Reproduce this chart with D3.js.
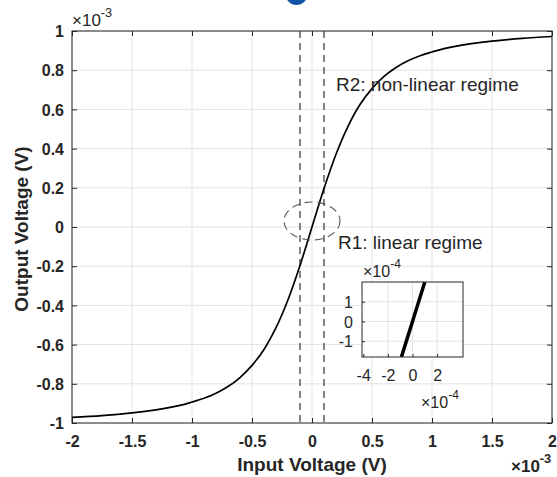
<!DOCTYPE html>
<html><head><meta charset="utf-8">
<script src="https://cdn.jsdelivr.net/npm/d3@7"></script>
<style>body{margin:0;background:#fff}svg text{font-family:Arial,"Liberation Sans",Helvetica,sans-serif}</style>
</head><body>
<svg id="c" width="557" height="477"></svg>
<script>
// main curve (x in 1e-3 V, y in 1e-3 V)
const inputV  = [-2, -1.75, -1.5, -1.25, -1.1, -1, -0.9, -0.8, -0.7, -0.6, -0.5, -0.4, -0.3, -0.2, -0.1, 0, 0.1, 0.2, 0.3, 0.4, 0.5, 0.6, 0.7, 0.8, 0.9, 1, 1.1, 1.25, 1.5, 1.75, 2];
const outputV = [-0.971, -0.962, -0.948, -0.928, -0.910, -0.893, -0.874, -0.848, -0.814, -0.768, -0.706, -0.625, -0.514, -0.371, -0.196, 0, 0.196, 0.371, 0.514, 0.625, 0.706, 0.768, 0.814, 0.848, 0.874, 0.893, 0.910, 0.928, 0.948, 0.962, 0.972];
const xTicks = [-2, -1.5, -1, -0.5, 0, 0.5, 1, 1.5, 2];
const yTicks = [-1, -0.8, -0.6, -0.4, -0.2, 0, 0.2, 0.4, 0.6, 0.8, 1];
const boundaryX = [-0.1, 0.1];
// inset (units 1e-4)
const insetX = [-0.9, 1.0];
const insetY = [-1.8, 2.0];
const insetXTicks = [-4, -2, 0, 2];
const insetYTicks = [-1, 0, 1];
const insetGridX = [-2, 0, 2];
const insetGridY = [-1, 0, 1];

const svg = d3.select("#c");
const L = 72, R = 552, T = 31, B = 423;
const x = d3.scaleLinear().domain([-2, 2]).range([L, R]);
const y = d3.scaleLinear().domain([-1, 1]).range([B, T]);
const axisCol = "#262626", gridCol = "#e3e3e3";
const FF = "Arial, 'Liberation Sans', sans-serif";

// logo blob at top
svg.append("circle").attr("cx", 296.5).attr("cy", -6).attr("r", 11).attr("fill", "#0f56a8");

svg.append("rect").attr("x", L).attr("y", T).attr("width", R - L).attr("height", B - T).attr("fill", "#fff");

// grid
const g = svg.append("g");
g.selectAll(".gx").data(xTicks).join("line")
  .attr("x1", d => x(d)).attr("x2", d => x(d)).attr("y1", T).attr("y2", B)
  .attr("stroke", gridCol).attr("stroke-width", 1);
g.selectAll(".gy").data(yTicks).join("line")
  .attr("y1", d => y(d)).attr("y2", d => y(d)).attr("x1", L).attr("x2", R)
  .attr("stroke", gridCol).attr("stroke-width", 1);

// axes with inward ticks
function styleAxis(sel) {
  sel.select(".domain").remove();
  sel.selectAll(".tick line").attr("stroke", axisCol);
}
const fmt = d => String(d);
const xb = svg.append("g").attr("transform", `translate(0,${B})`)
  .call(d3.axisBottom(x).tickValues(xTicks).tickFormat(fmt).tickSizeInner(-5).tickSizeOuter(0));
styleAxis(xb);
xb.selectAll("text").attr("y", 24).attr("dy", null)
  .attr("font-size", 16).attr("font-weight", "bold").attr("fill", axisCol).attr("font-family", FF);
const xt = svg.append("g").attr("transform", `translate(0,${T})`)
  .call(d3.axisTop(x).tickValues(xTicks).tickFormat("").tickSizeInner(-5).tickSizeOuter(0));
styleAxis(xt);
const yl = svg.append("g").attr("transform", `translate(${L},0)`)
  .call(d3.axisLeft(y).tickValues(yTicks).tickFormat(fmt).tickSizeInner(-5).tickSizeOuter(0));
styleAxis(yl);
yl.selectAll("text").attr("x", -8).attr("dy", "0.36em")
  .attr("font-size", 16).attr("font-weight", "bold").attr("fill", axisCol).attr("font-family", FF);
const yr = svg.append("g").attr("transform", `translate(${R},0)`)
  .call(d3.axisRight(y).tickValues(yTicks).tickFormat("").tickSizeInner(-5).tickSizeOuter(0));
styleAxis(yr);

svg.append("rect").attr("x", L).attr("y", T).attr("width", R - L).attr("height", B - T)
  .attr("fill", "none").attr("stroke", axisCol).attr("stroke-width", 1);

// boundary dashed lines
svg.selectAll(".bd").data(boundaryX).join("line")
  .attr("x1", d => x(d)).attr("x2", d => x(d)).attr("y1", T).attr("y2", B)
  .attr("stroke", "#333").attr("stroke-width", 1.2).attr("stroke-dasharray", "7,5");

// curve
const pts = inputV.map((v, i) => [v, outputV[i]]);
svg.append("path").datum(pts)
  .attr("d", d3.line().x(d => x(d[0])).y(d => y(d[1])).curve(d3.curveCatmullRom.alpha(0.5)))
  .attr("fill", "none").attr("stroke", "#000").attr("stroke-width", 1.7);

// dashed ellipse
svg.append("ellipse").attr("cx", x(0)).attr("cy", 221).attr("rx", 28).attr("ry", 19)
  .attr("fill", "none").attr("stroke", "#555").attr("stroke-width", 1.1).attr("stroke-dasharray", "8,5");

// annotations
svg.append("text").attr("x", 336).attr("y", 91).attr("font-size", 19).attr("fill", axisCol).text("R2: non-linear regime");
svg.append("text").attr("x", 338).attr("y", 249).attr("font-size", 19).attr("fill", axisCol).text("R1: linear regime");

// axis titles
svg.append("text").attr("x", x(0)).attr("y", 471).attr("text-anchor", "middle")
  .attr("font-size", 19).attr("font-weight", "bold").attr("fill", axisCol).text("Input Voltage (V)");
svg.append("text").attr("transform", "translate(28,229) rotate(-90)").attr("text-anchor", "middle")
  .attr("font-size", 19).attr("font-weight", "bold").attr("fill", axisCol).text("Output Voltage (V)");

// exponent labels
function expLabel(px, py, exp, size, weight) {
  const t = svg.append("text").attr("x", px).attr("y", py).attr("font-size", size)
    .attr("font-weight", weight).attr("fill", axisCol);
  t.append("tspan").text("\u00d710");
  t.append("tspan").attr("dy", -9).attr("font-size", size * 0.75).text(exp);
}
expLabel(72, 26, "-3", 17, "normal");
expLabel(511, 472, "-3", 17, "bold");

// inset
const iL = 362, iR = 463, iT = 282, iB = 357;
const ix = d3.scaleLinear().domain([-4.1, 4.1]).range([iL, iR]);
const iy = d3.scaleLinear().domain([-1.8, 2.0]).range([iB, iT]);
svg.append("rect").attr("x", iL).attr("y", iT).attr("width", iR - iL).attr("height", iB - iT).attr("fill", "#fff");
svg.selectAll(".igx").data(insetGridX).join("line")
  .attr("x1", d => ix(d)).attr("x2", d => ix(d)).attr("y1", iT).attr("y2", iB)
  .attr("stroke", gridCol);
svg.selectAll(".igy").data(insetGridY).join("line")
  .attr("y1", d => iy(d)).attr("y2", d => iy(d)).attr("x1", iL).attr("x2", iR)
  .attr("stroke", gridCol);
const ixb = svg.append("g").attr("transform", `translate(0,${iB})`)
  .call(d3.axisBottom(ix).tickValues(insetXTicks).tickFormat(fmt).tickSizeInner(-3).tickSizeOuter(0));
styleAxis(ixb);
ixb.selectAll("text").attr("y", 24).attr("dy", null).attr("font-size", 16).attr("fill", axisCol)
  .attr("font-family", FF);
const iyl = svg.append("g").attr("transform", `translate(${iL},0)`)
  .call(d3.axisLeft(iy).tickValues(insetYTicks).tickFormat(fmt).tickSizeInner(-3).tickSizeOuter(0));
styleAxis(iyl);
iyl.selectAll("text").attr("x", -9).attr("dy", "0.36em").attr("font-size", 16).attr("fill", axisCol)
  .attr("font-family", FF);
svg.append("clipPath").attr("id", "ic").append("rect").attr("x", iL).attr("y", iT).attr("width", iR - iL).attr("height", iB - iT);
svg.append("line").attr("clip-path", "url(#ic)")
  .attr("x1", ix(insetX[0])).attr("y1", iy(insetY[0])).attr("x2", ix(insetX[1])).attr("y2", iy(insetY[1]))
  .attr("stroke", "#000").attr("stroke-width", 3.5);
svg.append("rect").attr("x", iL).attr("y", iT).attr("width", iR - iL).attr("height", iB - iT)
  .attr("fill", "none").attr("stroke", axisCol).attr("stroke-width", 1);
expLabel(363, 277, "-4", 16, "normal");
expLabel(421, 408, "-4", 16, "normal");
</script>
</body></html>
